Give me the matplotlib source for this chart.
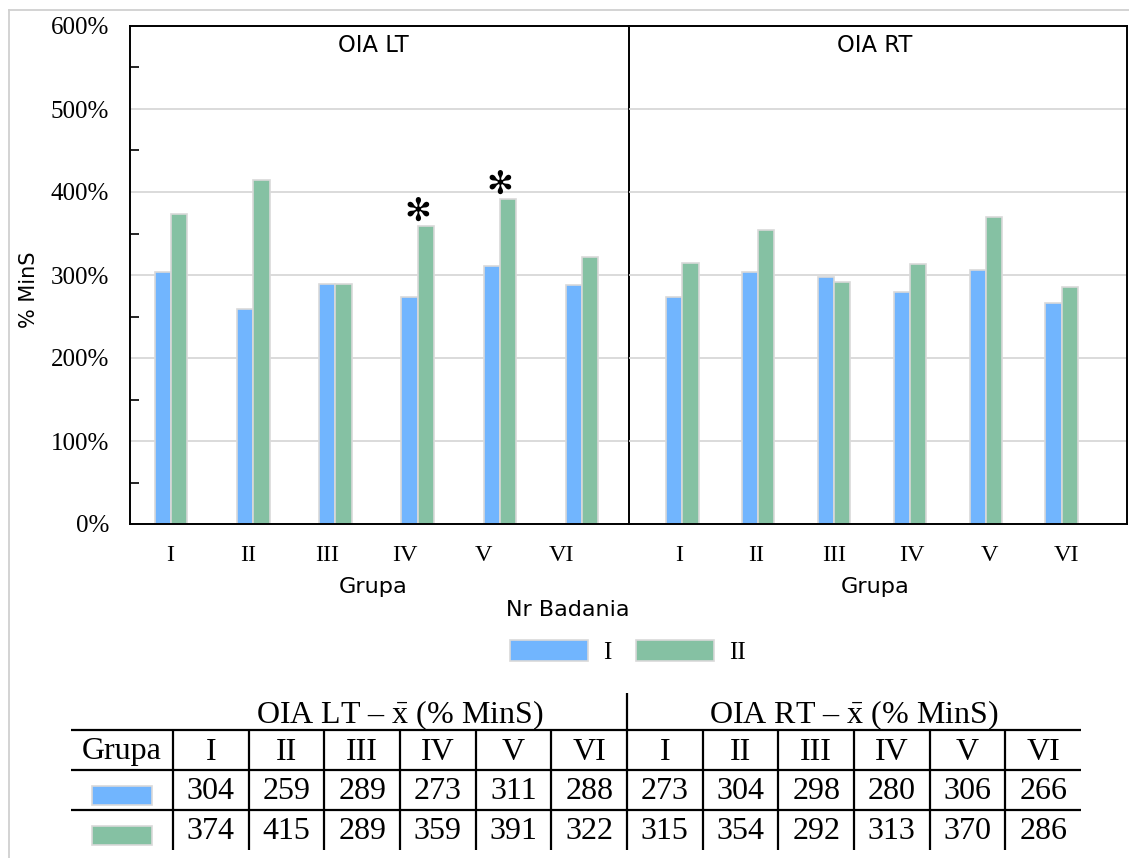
import numpy as np
import matplotlib
matplotlib.use("Agg")
import matplotlib.pyplot as plt
from matplotlib.patches import Rectangle
from matplotlib.lines import Line2D
from matplotlib.ticker import FixedLocator

# ---------------- data ----------------
groups = ["I", "II", "III", "IV", "V", "VI"]
lt_I = [304, 259, 289, 273, 311, 288]
lt_II = [374, 415, 289, 359, 391, 322]
rt_I = [273, 304, 298, 280, 306, 266]
rt_II = [315, 354, 292, 313, 370, 286]
sig_lt = [False, False, False, True, True, False]
sig_rt = [False, False, False, False, False, False]
panel_titles = ["OIA LT", "OIA RT"]
series_names = ["I", "II"]
table_headers = ["OIA LT – $\\bar{\\mathrm{x}}$ (% MinS)", "OIA RT – $\\bar{\\mathrm{x}}$ (% MinS)"]
y_major = [0, 100, 200, 300, 400, 500, 600]
y_minor = [50, 150, 250, 350, 450, 550]

# ---------------- style ----------------
W, H = 1129, 858
SERIF = "Liberation Serif"
SANS = "DejaVu Sans"
BLUE = "#71B5FE"
GREEN = "#85C1A3"
EDGE = "#d9d9d9"
GRID = "#d4d4d4"
plt.rcParams["mathtext.fontset"] = "custom"
plt.rcParams["mathtext.rm"] = SERIF
plt.rcParams["mathtext.it"] = SERIF + ":italic"

fig = plt.figure(figsize=(W / 100, H / 100), dpi=100)


def fx(px):
    return px / W


def fy(py):
    return 1 - py / H


# outer light frame
fig.add_artist(Line2D([fx(9), fx(9)], [0, fy(10)], color="#d0d0d0", lw=1.3,
                      transform=fig.transFigure))
fig.add_artist(Line2D([fx(9), 1], [fy(10), fy(10)], color="#d0d0d0", lw=1.3,
                      transform=fig.transFigure))

axL = fig.add_axes([fx(130), fy(524), fx(629) - fx(130), (524 - 26) / H])
axR = fig.add_axes([fx(629), fy(524), fx(1127) - fx(629), (524 - 26) / H])
axR.set_facecolor("none")

panels = [
    (axL, lt_I, lt_II, sig_lt, (-0.499, 5.571), (-0.510, 5.855), 82.2, panel_titles[0], 0.487),
    (axR, rt_I, rt_II, sig_rt, (-0.702, 5.859), (-0.644, 5.774), 75.9, panel_titles[1], 0.494),
]

for k, (ax, vI, vII, sig, xlim, lablim, spacing, title, tx) in enumerate(panels):
    x = np.arange(len(groups))
    w = 16.3 / spacing
    ax.bar(x - w / 2, vI, w, color=BLUE, edgecolor=EDGE, linewidth=1.2, zorder=2)
    ax.bar(x + w / 2, vII, w, color=GREEN, edgecolor=EDGE, linewidth=1.2, zorder=2)
    for i, s in enumerate(sig):
        if s:
            ax.annotate("\u273B", xy=(x[i], vII[i]), xytext=(0, 10), textcoords="offset points",
                        ha="center", va="center", fontsize=23, family=[SANS], color="black")
    ax.set_xlim(*xlim)
    ax.set_ylim(0, 600)
    ax.set_xticks([])
    ax.set_yticks(y_major)
    ax.yaxis.grid(True, color=GRID, lw=1.2)
    ax.set_axisbelow(True)
    for sp in ax.spines.values():
        sp.set_color("black")
        sp.set_linewidth(1.4)
    ax.text(tx, 0.96, title, transform=ax.transAxes, ha="center", va="center",
            family=SANS, fontsize=16.3)

    lab = ax.twiny()
    lab.set_xlim(*lablim)
    lab.set_xticks(np.arange(len(groups)))
    lab.set_xticklabels(groups, family=SERIF, fontsize=17.5)
    lab.xaxis.set_ticks_position("bottom")
    lab.xaxis.set_label_position("bottom")
    lab.tick_params(axis="x", length=0, pad=15)
    for sp in lab.spines.values():
        sp.set_visible(False)
    lab.set_xlabel("Grupa", family=SANS, fontsize=16.2)
    lab.xaxis.set_label_coords(tx, -0.106)

axL.set_yticklabels([f"{v}%" for v in y_major], family=SERIF, fontsize=18)
axL.yaxis.set_minor_locator(FixedLocator(y_minor))
axL.tick_params(axis="y", which="major", length=0, pad=15)
axL.tick_params(axis="y", which="minor", direction="in", length=6.5, width=1.2)
axL.set_ylabel("% MinS", family=SANS, fontsize=15)
axL.yaxis.set_label_coords(-0.182, 0.47)
axR.tick_params(axis="y", which="both", length=0, labelleft=False)
axR.spines["left"].set_visible(False)

fig.text(fx(568), fy(610), "Nr Badania", ha="center", va="center", family=SANS, fontsize=16)

handles = [Rectangle((0, 0), 1, 1, fc=BLUE, ec=EDGE, lw=1.2),
           Rectangle((0, 0), 1, 1, fc=GREEN, ec=EDGE, lw=1.2)]
fig.legend(handles, series_names, loc="center", bbox_to_anchor=(fx(628), fy(652)), ncol=2,
           frameon=False, prop={"family": SERIF, "size": 18}, handlelength=3.1,
           handleheight=0.95, handletextpad=0.6, columnspacing=1.0)

# ---------------- table ----------------
axT = fig.add_axes([fx(71), fy(850), fx(1081) - fx(71), 160 / H])
gw = 102 / 75.67
axT.set_xlim(-gw, 12)
axT.set_ylim(0, 4)
axT.axis("off")
axT.hlines([1, 2, 3], -gw, 12, color="black", lw=1.6, clip_on=False)
axT.vlines(np.arange(12), 0, 3, color="black", lw=1.6, clip_on=False)
axT.vlines(6, 3, 3.93, color="black", lw=1.6, clip_on=False)

tfs = 23
for j, hdr in enumerate(table_headers):
    axT.text(3 + 6 * j, 3.375, hdr, ha="center", va="center", family=SERIF, fontsize=tfs)
axT.text(-gw / 2, 2.45, "Grupa", ha="center", va="center", family=SERIF, fontsize=tfs)
col_labels = groups + groups
for i, c in enumerate(col_labels):
    axT.text(i + 0.5, 2.45, c, ha="center", va="center", family=SERIF, fontsize=tfs)
rows = [(1, lt_I + rt_I, BLUE), (0, lt_II + rt_II, GREEN)]
for r, vals, col in rows:
    axT.add_patch(Rectangle((-gw / 2 - 0.3965, r + 0.12), 0.793, 0.48, fc=col, ec=EDGE, lw=1.2))
    for i, v in enumerate(vals):
        axT.text(i + 0.5, r + 0.47, str(v), ha="center", va="center", family=SERIF, fontsize=tfs)

fig.savefig("out.png", dpi=100)
